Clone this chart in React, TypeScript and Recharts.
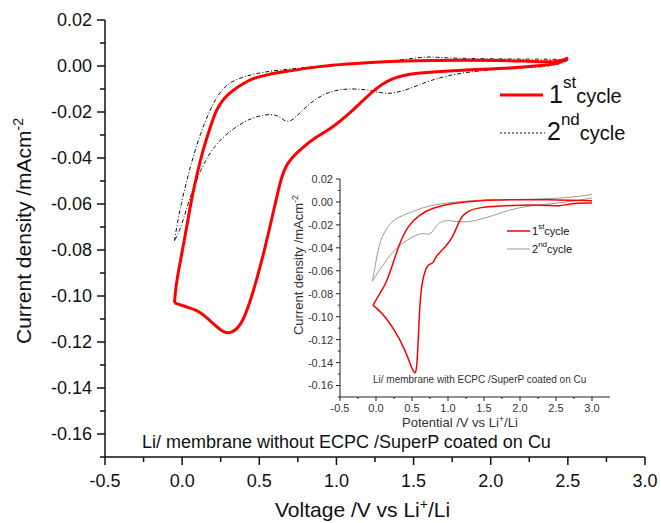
import React from 'react';
import { LineChart, Line, XAxis, YAxis, Legend, Customized } from 'recharts';

const FONT = '"Liberation Sans", Arial, Helvetica, sans-serif';

// main panel: Li/ membrane without ECPC, [V, mA cm-2]
// each cycle split into the cathodic (down) and anodic (up) sweep
const cycle1MainDown = [
  [2.5, 0.0035], [2.45, 0.0012], [2.36, 0.0004], [2.14, -0.001], [1.82, -0.0017],
  [1.5, -0.003], [1.35, -0.0053], [1.24, -0.0104], [1.09, -0.0205], [0.96, -0.0275],
  [0.87, -0.0307], [0.76, -0.0365], [0.68, -0.042], [0.64, -0.049], [0.61, -0.058],
  [0.52, -0.0843], [0.44, -0.103], [0.38, -0.1133], [0.31, -0.1165], [0.26, -0.1155],
  [0.2, -0.112], [0.12, -0.1068], [0.04, -0.105], [-0.05, -0.103],
];
const cycle1MainUp = [
  [-0.05, -0.103], [-0.04, -0.095], [-0.01, -0.0843], [0.03, -0.07], [0.06, -0.058], [0.1, -0.046],
  [0.135, -0.0365], [0.18, -0.027], [0.22, -0.019], [0.27, -0.014], [0.33, -0.0104],
  [0.4, -0.0075], [0.46, -0.0053], [0.55, -0.0038], [0.65, -0.0026], [0.8, -0.001],
  [0.96, 0.0004], [1.2, 0.0015], [1.4, 0.0022], [1.82, 0.0026], [2.25, 0.0022],
  [2.43, 0.0014], [2.5, 0.0035],
];

const cycle2MainDown = [
  [2.5, 0.0025], [2.47, 0.0013], [2.36, -0.0004], [2.14, -0.0009], [1.82, -0.0026],
  [1.61, -0.006], [1.46, -0.0104], [1.33, -0.0126], [1.22, -0.0104], [1.09, -0.0097],
  [0.96, -0.0108], [0.85, -0.0148], [0.76, -0.0206], [0.69, -0.0252], [0.64, -0.0225],
  [0.59, -0.0206], [0.46, -0.022], [0.33, -0.027], [0.2, -0.035], [0.12, -0.045],
  [0.05, -0.057], [-0.01, -0.071], [-0.05, -0.076],
];
const cycle2MainUp = [
  [-0.05, -0.076], [-0.03, -0.068], [-0.01, -0.061], [0.05, -0.044], [0.12, -0.029], [0.18, -0.019],
  [0.25, -0.0104], [0.33, -0.006], [0.5, -0.0026], [0.76, -0.0009], [0.96, 0.0004],
  [1.39, 0.0022], [1.59, 0.0043], [1.67, 0.0035], [2.04, 0.003], [2.47, 0.003], [2.5, 0.0025],
];

// inset: Li/ membrane with ECPC
const cycle1InsetDown = [
  [3.0, -0.0009], [2.7, -0.0012], [2.55, -0.0038], [2.4, -0.003], [2.2, -0.0026],
  [1.9, -0.003], [1.6, -0.004], [1.44, -0.005], [1.3, -0.007], [1.22, -0.011],
  [1.18, -0.014], [1.12, -0.022], [1.07, -0.03], [0.97, -0.039], [0.83, -0.047],
  [0.8, -0.053], [0.76, -0.054], [0.72, -0.055], [0.68, -0.06], [0.64, -0.07],
  [0.61, -0.087], [0.59, -0.116], [0.57, -0.142], [0.55, -0.15], [0.52, -0.148],
  [0.48, -0.142], [0.39, -0.127], [0.27, -0.113], [0.14, -0.101], [0.05, -0.095],
  [-0.04, -0.09],
];
const cycle1InsetUp = [
  [-0.04, -0.09], [0.04, -0.081], [0.135, -0.072], [0.23, -0.055], [0.32, -0.037], [0.44, -0.021],
  [0.6, -0.011], [0.79, -0.0052], [1.02, -0.0015], [1.44, 0.0015], [1.9, 0.002],
  [2.37, 0.002], [3.0, 0.001],
];

const cycle2InsetDown = [
  [3.0, 0.0035], [2.6, -0.0009], [2.0, -0.0038], [1.67, -0.011], [1.44, -0.0154],
  [1.25, -0.018], [1.1, -0.017], [0.93, -0.0154], [0.83, -0.021], [0.76, -0.0285],
  [0.7, -0.028], [0.65, -0.027], [0.51, -0.03], [0.37, -0.036], [0.23, -0.043],
  [0.04, -0.06], [-0.05, -0.069],
];
const cycle2InsetUp = [
  [-0.05, -0.069], [0.0, -0.052], [0.04, -0.037], [0.135, -0.023], [0.27, -0.014], [0.46, -0.0096],
  [0.69, -0.0038], [0.97, -0.0009], [1.44, 0.002], [1.9, 0.002], [2.6, 0.003], [3.0, 0.0064],
];

const seriesNames = ['1st cycle', '2nd cycle'];

const xMajor = [-0.5, 0, 0.5, 1, 1.5, 2, 2.5, 3];
const xMinor = [-0.25, 0.25, 0.75, 1.25, 1.75, 2.25, 2.75];
const yMajor = [-0.16, -0.14, -0.12, -0.1, -0.08, -0.06, -0.04, -0.02, 0, 0.02];
const yMinor = [-0.17, -0.15, -0.13, -0.11, -0.09, -0.07, -0.05, -0.03, -0.01, 0.01];

const pts = (rows: number[][]) => rows.map(([v, i]) => ({ v, i }));

const mainCfg = { major: 8, minor: 5, font: 18, xGap: 30, yGap: 13, stroke: '#111', sw: 1.5, color: '#111' };
const insetCfg = { major: 4, minor: 2, font: 11, xGap: 15, yGap: 7, stroke: '#222', sw: 1, color: '#333' };

function AxisTick(props: any) {
  const { x, y, payload, axis, majors, cfg } = props;
  const v = payload.value;
  const isMajor = majors.includes(v);
  const len = isMajor ? cfg.major : cfg.minor;
  if (axis === 'x') {
    return (
      <g>
        <line x1={x} x2={x} y1={y} y2={y + len} stroke={cfg.stroke} strokeWidth={cfg.sw} />
        {isMajor && (
          <text x={x} y={y + cfg.xGap} textAnchor="middle" fontSize={cfg.font} fontFamily={FONT} fill={cfg.color}>
            {v.toFixed(1)}
          </text>
        )}
      </g>
    );
  }
  return (
    <g>
      <line x1={x} x2={x - len} y1={y} y2={y} stroke={cfg.stroke} strokeWidth={cfg.sw} />
      {isMajor && (
        <text x={x - cfg.yGap} y={y + cfg.font * 0.36} textAnchor="end" fontSize={cfg.font} fontFamily={FONT} fill={cfg.color}>
          {v.toFixed(2)}
        </text>
      )}
    </g>
  );
}

const mainYLabel = () => (
  <text transform="translate(31,231) rotate(-90)" textAnchor="middle" fontSize={21} fontFamily={FONT} fill="#111">
    Current density /mAcm<tspan fontSize={14} dy={-8}>-2</tspan>
  </text>
);

const mainXLabel = () => (
  <text x={275} y={517} fontSize={21} fontFamily={FONT} fill="#111">
    Voltage /V vs Li<tspan fontSize={14} dy={-8}>+</tspan><tspan dy={8}>/Li</tspan>
  </text>
);

const insetYLabel = () => (
  <text transform="translate(23,95) rotate(-90)" textAnchor="middle" fontSize={13} fontFamily={FONT} fill="#333">
    Current density /mAcm<tspan fontSize={9} dy={-5}>-2</tspan>
  </text>
);

const insetXLabel = () => (
  <text x={122} y={257} fontSize={13} fontFamily={FONT} fill="#333">
    Potential /V vs Li<tspan fontSize={9} dy={-5}>+</tspan><tspan dy={5}>/Li</tspan>
  </text>
);

const MainNote = () => (
  <text x={142} y={448} fontSize={18} fontFamily={FONT} fill="#111">
    Li/ membrane without ECPC /SuperP coated on Cu
  </text>
);

const InsetNote = () => (
  <text x={93} y={213} fontSize={10} fontFamily={FONT} fill="#333">
    Li/ membrane with ECPC /SuperP coated on Cu
  </text>
);

function CycleName({ x, y, name, big, sup, small, rise }: any) {
  const m = name.match(/^(\d+)(\D+?) (.+)$/);
  return (
    <text x={x} y={y} fontFamily={FONT} fill="#111">
      <tspan fontSize={big}>{m[1]}</tspan>
      <tspan fontSize={sup} dy={-rise}>{m[2]}</tspan>
      <tspan fontSize={small} dy={rise}>{m[3]}</tspan>
    </text>
  );
}

const mainLegend = () => (
  <svg width={150} height={80}>
    <line x1={10} x2={53} y1={25} y2={25} stroke="#ff0000" strokeWidth={3} />
    <CycleName x={59} y={33} name={seriesNames[0]} big={25} sup={17} small={20} rise={15} />
    <line x1={10} x2={55} y1={63} y2={63} stroke="#111" strokeWidth={1} strokeDasharray="2 2" />
    <CycleName x={57} y={70} name={seriesNames[1]} big={25} sup={17} small={20} rise={15} />
  </svg>
);

const insetLegend = () => (
  <svg width={90} height={45}>
    <line x1={7} x2={30} y1={11} y2={11} stroke="#ff0000" strokeWidth={1.5} />
    <CycleName x={32} y={15} name={seriesNames[0]} big={11} sup={8} small={11} rise={6} />
    <line x1={7} x2={30} y1={29} y2={29} stroke="#999" strokeWidth={1} />
    <CycleName x={32} y={33} name={seriesNames[1]} big={11} sup={8} small={11} rise={6} />
  </svg>
);

export default function App() {
  return (
    <div style={{ position: 'absolute', left: 0, top: 0, width: 661, height: 523, background: '#fff', fontFamily: FONT }}>
      <div style={{ position: 'absolute', left: 0, top: 0 }}>
        <LineChart width={661} height={523} margin={{ top: 20, right: 16, bottom: 0, left: 0 }}>
          <XAxis
            type="number" dataKey="v" domain={[-0.5, 3]} allowDataOverflow
            ticks={[...xMajor, ...xMinor]} interval={0} height={66}
            tickSize={0} tickMargin={0} tickLine={false}
            axisLine={{ stroke: '#111', strokeWidth: 1.5 }}
            tick={<AxisTick axis="x" majors={xMajor} cfg={mainCfg} />}
            label={mainXLabel}
          />
          <XAxis xAxisId="top" orientation="top" type="number" domain={[-0.5, 3]} height={0}
            tick={false} tickLine={false} axisLine={{ stroke: '#444', strokeWidth: 1.3 }} />
          <YAxis
            type="number" domain={[-0.17, 0.02]} allowDataOverflow
            ticks={[...yMajor, ...yMinor]} interval={0} width={105}
            tickSize={0} tickMargin={0} tickLine={false}
            axisLine={{ stroke: '#111', strokeWidth: 1.5 }}
            tick={<AxisTick axis="y" majors={yMajor} cfg={mainCfg} />}
            label={mainYLabel}
          />
          <YAxis yAxisId="right" orientation="right" type="number" domain={[-0.17, 0.02]} width={0}
            tick={false} tickLine={false} axisLine={{ stroke: '#444', strokeWidth: 1.3 }} />
          <Line data={pts(cycle2MainDown)} dataKey="i" name={seriesNames[1]} type="basis"
            stroke="#111" strokeWidth={1} strokeDasharray="4 2 1 2" dot={false} isAnimationActive={false} />
          <Line data={pts(cycle2MainUp)} dataKey="i" name={seriesNames[1]} type="basis" legendType="none"
            stroke="#111" strokeWidth={1} strokeDasharray="4 2 1 2" dot={false} isAnimationActive={false} />
          <Line data={pts(cycle1MainDown)} dataKey="i" name={seriesNames[0]} type="basis"
            stroke="#ff0000" strokeWidth={3} dot={false} isAnimationActive={false} />
          <Line data={pts(cycle1MainUp)} dataKey="i" name={seriesNames[0]} type="basis" legendType="none"
            stroke="#ff0000" strokeWidth={3} dot={false} isAnimationActive={false} />
          <Legend layout="vertical" align="center" verticalAlign="middle" content={mainLegend}
            wrapperStyle={{ position: 'absolute', left: 490, top: 70, width: 150, height: 80 }} />
          <Customized component={MainNote} />
        </LineChart>
      </div>

      <div style={{ position: 'absolute', left: 280, top: 170 }}>
        <LineChart width={340} height={270} margin={{ top: 9, right: 10, bottom: 0, left: 0 }}>
          <XAxis
            type="number" dataKey="v" domain={[-0.5, 3.25]} allowDataOverflow
            ticks={[...xMajor, ...xMinor]} interval={0} height={43}
            tickSize={0} tickMargin={0} tickLine={false}
            axisLine={{ stroke: '#222', strokeWidth: 1 }}
            tick={<AxisTick axis="x" majors={xMajor} cfg={insetCfg} />}
            label={insetXLabel}
          />
          <XAxis xAxisId="top" orientation="top" type="number" domain={[-0.5, 3.25]} height={0}
            tick={false} tickLine={false} axisLine={{ stroke: '#222', strokeWidth: 1 }} />
          <YAxis
            type="number" domain={[-0.17, 0.02]} allowDataOverflow
            ticks={[...yMajor, ...yMinor]} interval={0} width={60}
            tickSize={0} tickMargin={0} tickLine={false}
            axisLine={{ stroke: '#222', strokeWidth: 1 }}
            tick={<AxisTick axis="y" majors={yMajor} cfg={insetCfg} />}
            label={insetYLabel}
          />
          <YAxis yAxisId="right" orientation="right" type="number" domain={[-0.17, 0.02]} width={0}
            tick={false} tickLine={false} axisLine={{ stroke: '#222', strokeWidth: 1 }} />
          <Line data={pts(cycle2InsetDown)} dataKey="i" name={seriesNames[1]} type="basis"
            stroke="#999" strokeWidth={1} dot={false} isAnimationActive={false} />
          <Line data={pts(cycle2InsetUp)} dataKey="i" name={seriesNames[1]} type="basis" legendType="none"
            stroke="#999" strokeWidth={1} dot={false} isAnimationActive={false} />
          <Line data={pts(cycle1InsetDown)} dataKey="i" name={seriesNames[0]} type="basis"
            stroke="#ff0000" strokeWidth={1.5} dot={false} isAnimationActive={false} />
          <Line data={pts(cycle1InsetUp)} dataKey="i" name={seriesNames[0]} type="basis" legendType="none"
            stroke="#ff0000" strokeWidth={1.5} dot={false} isAnimationActive={false} />
          <Legend layout="vertical" align="center" verticalAlign="middle" content={insetLegend}
            wrapperStyle={{ position: 'absolute', left: 220, top: 50, width: 90, height: 45 }} />
          <Customized component={InsetNote} />
        </LineChart>
      </div>
    </div>
  );
}
